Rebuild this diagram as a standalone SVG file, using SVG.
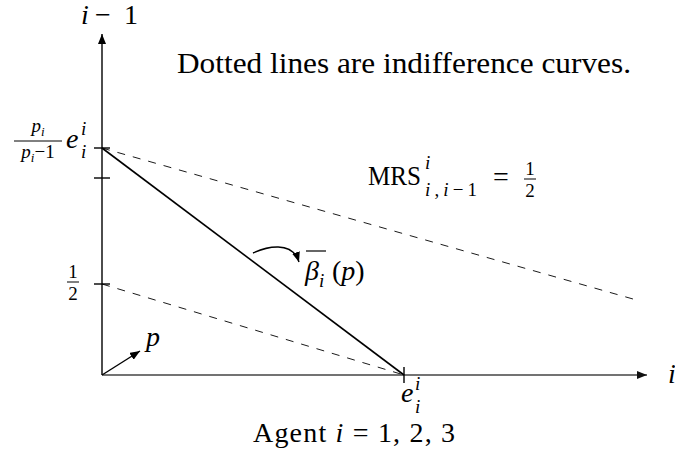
<svg xmlns="http://www.w3.org/2000/svg" width="675" height="457" viewBox="0 0 675 457" font-family="'Liberation Serif', 'Times New Roman', 'DejaVu Serif', serif">
<defs>
<marker id="ah" viewBox="0 0 10 8" refX="10" refY="4" markerWidth="10" markerHeight="8" markerUnits="userSpaceOnUse" orient="auto">
<path d="M0,0 L10,4 L0,8 z" fill="#000"/>
</marker>
<marker id="ahg" viewBox="0 0 10 8" refX="10" refY="4" markerWidth="10" markerHeight="8" markerUnits="userSpaceOnUse" orient="auto">
<path d="M0,0 L10,4 L0,8 z" fill="#111"/>
</marker>
</defs>
<style>
text{font-family:'Liberation Serif','Times New Roman','DejaVu Serif',serif;fill:#000}
.t{font-size:29px}
.m{font-size:28px;font-style:italic}
.r{font-size:28px}
.s{font-size:19px;font-style:italic}
.sr{font-size:19px}
.ax{stroke:#000;stroke-width:1.4;fill:none}
.tick{stroke:#000;stroke-width:1.4}
.dash{stroke:#000;stroke-width:0.9;stroke-dasharray:8 8;fill:none}
.solid{stroke:#000;stroke-width:1.6;fill:none}
</style>
<rect width="675" height="457" fill="#fff"/>
<g id="connectors">
<line class="ax" x1="102" y1="375" x2="102" y2="34" marker-end="url(#ah)"/>
<line x1="102" y1="375" x2="647" y2="375" marker-end="url(#ahg)" style="stroke:#444;stroke-width:1.6"/>
<line class="tick" x1="94" y1="148" x2="110" y2="148"/>
<line class="tick" x1="94" y1="178" x2="110" y2="178"/>
<line class="tick" x1="94" y1="284" x2="110" y2="284"/>
<line class="tick" x1="404" y1="367" x2="404" y2="383"/>
<line class="solid" x1="102" y1="148" x2="404" y2="375"/>
<line class="dash" x1="102" y1="148" x2="633" y2="299"/>
<line class="dash" x1="102" y1="284" x2="404" y2="375"/>
<line class="ax" x1="102" y1="375" x2="140" y2="351" marker-end="url(#ah)"/>
<path class="ax" d="M253,253 C266,247 292,240 299,262" marker-end="url(#ah)"/>
</g>
<g id="y-axis-label">
<text x="81" y="24" class="m">i<tspan x="95" font-style="normal">−</tspan><tspan x="124" font-style="normal">1</tspan></text>
</g>
<g id="x-axis-label">
<text x="668" y="383" class="m">i</text>
</g>
<g id="note">
<text x="177" y="73" class="t" textLength="454" lengthAdjust="spacingAndGlyphs">Dotted lines are indifference curves.</text>
</g>
<g id="label-top-intercept">
<text x="38" y="132" class="s" text-anchor="middle">p<tspan font-size="13" dy="4">i</tspan></text>
<line x1="14" y1="141" x2="62" y2="141" stroke="#000" stroke-width="1"/>
<text x="38" y="158" class="s" text-anchor="middle">p<tspan font-size="13" dy="4">i</tspan><tspan dy="-4" font-style="normal">−1</tspan></text>
<text x="66" y="148" class="m">e</text>
<text x="81" y="135" class="s">i</text>
<text x="81" y="158" class="s">i</text>
</g>
<g id="label-half">
<text x="73" y="278" class="sr" text-anchor="middle">1</text>
<line x1="67" y1="282" x2="79" y2="282" stroke="#000" stroke-width="1"/>
<text x="73" y="300" class="sr" text-anchor="middle">2</text>
</g>
<g id="label-mrs">
<text x="368" y="185" class="r" textLength="53" lengthAdjust="spacingAndGlyphs">MRS</text>
<text x="425" y="169" class="s">i</text>
<text x="425" y="196" class="s" textLength="52" lengthAdjust="spacing">i<tspan font-style="normal">,</tspan>i<tspan font-style="normal">−1</tspan></text>
<text x="501" y="186" class="r" text-anchor="middle">=</text>
<text x="530" y="175" class="sr" text-anchor="middle">1</text>
<line x1="524" y1="179" x2="536" y2="179" stroke="#000" stroke-width="1"/>
<text x="530" y="197" class="sr" text-anchor="middle">2</text>
</g>
<g id="label-beta">
<line x1="306" y1="251" x2="326" y2="251" stroke="#000" stroke-width="1.2"/>
<text x="305" y="280" class="m">β<tspan class="s" dy="7">i</tspan><tspan class="r" x="332" dy="-7" font-style="normal">(</tspan>p<tspan font-style="normal">)</tspan></text>
</g>
<g id="label-p">
<text x="146" y="346" class="m">p</text>
</g>
<g id="label-endowment">
<text x="401" y="402" class="m">e</text>
<text x="415" y="390" class="s">i</text>
<text x="415" y="413" class="s">i</text>
</g>
<g id="caption">
<text x="253" y="442" class="r" textLength="202" lengthAdjust="spacing">Agent <tspan font-style="italic">i</tspan> = 1, 2, 3</text>
</g>
</svg>
